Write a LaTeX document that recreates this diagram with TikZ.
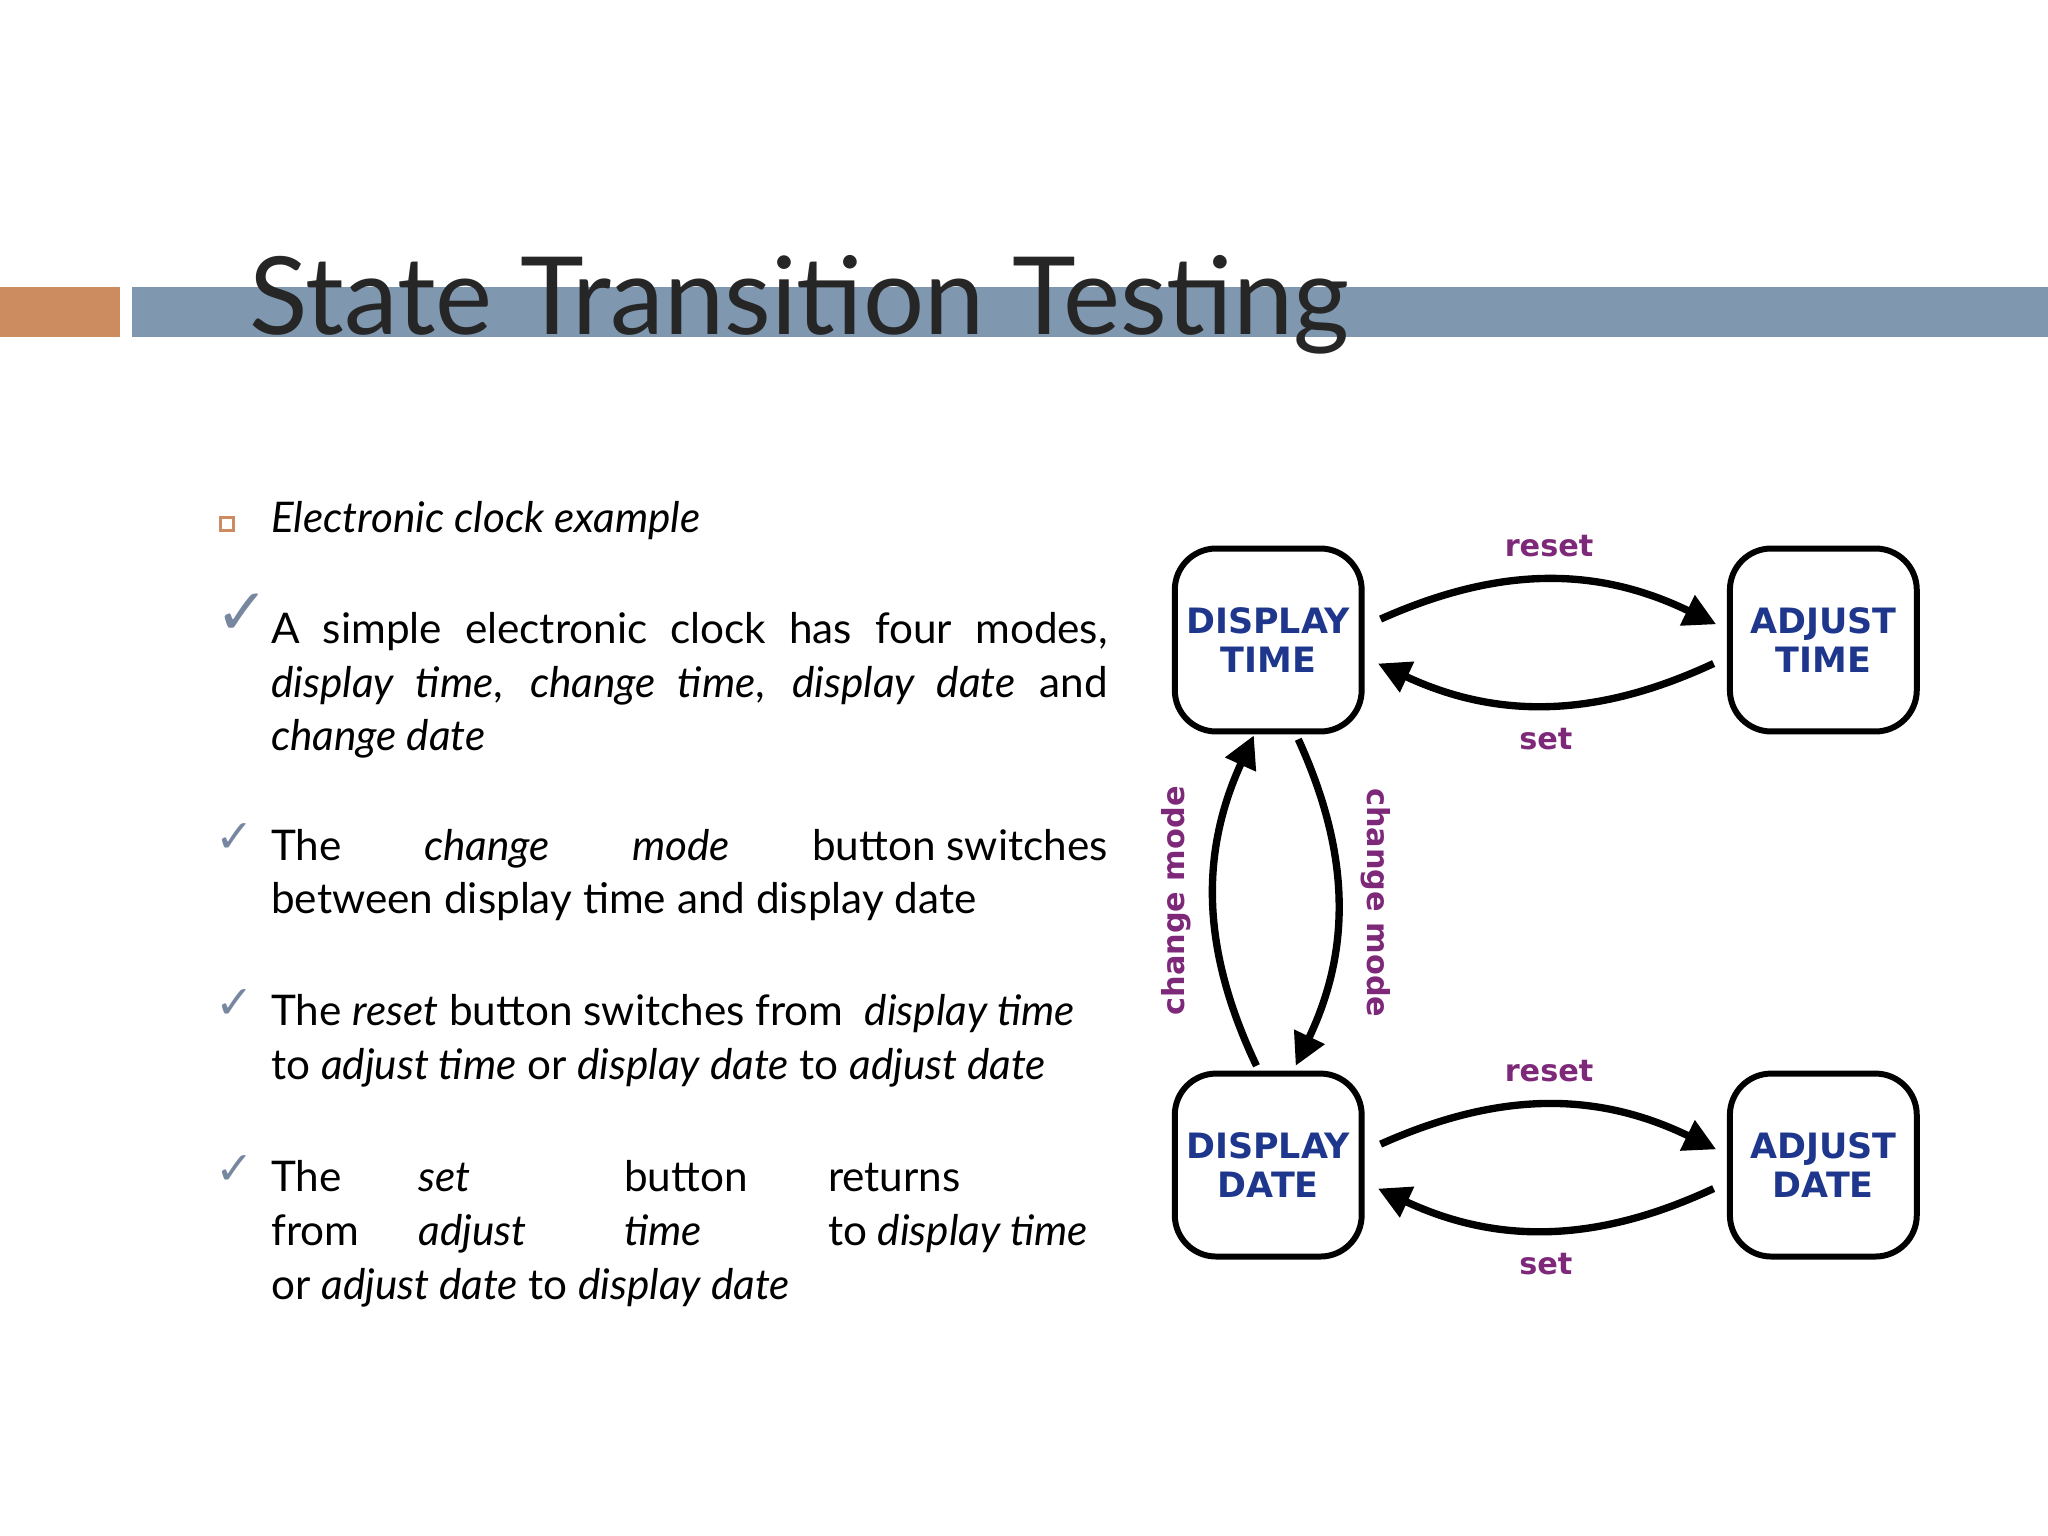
\documentclass[tikz,border=0pt]{standalone}
\usepackage{fontspec}
\setmainfont{Lato}
\newfontfamily\boxfont{DejaVu Sans}
\newfontfamily\symfont{DejaVu Sans}
\definecolor{slidebar}{RGB}{127,152,176}
\definecolor{slideorange}{RGB}{205,140,95}
\definecolor{tickgrey}{RGB}{120,135,160}
\definecolor{statetext}{RGB}{30,55,140}
\definecolor{eventtext}{RGB}{125,40,120}
\usetikzlibrary{positioning}
\usetikzlibrary{arrows.meta}
\tikzset{
  state/.style={draw, line width=1.3pt, rounded corners=9pt, minimum width=1.43cm,
    minimum height=1.4cm, inner sep=0pt, align=center, text=statetext, font=\boxfont\bfseries\fontsize{7.6}{8.6}\selectfont},
  trans/.style={line width=1.6pt, -{Triangle[length=7pt,width=7pt]}},
  event/.style={text=eventtext, font=\boxfont\bfseries\fontsize{6.6}{8}\selectfont},
  bullettext/.style={anchor=north west, text width=6.4cm, align=justify, inner sep=0pt,
    font=\fontsize{9.2}{11.7}\selectfont},
  tick/.style={text=tickgrey, font=\symfont\fontsize{10}{10}\selectfont, inner sep=0pt}
}
\begin{document}
\begin{tikzpicture}[x=0.01cm,y=-0.01cm]
  \useasboundingbox[fill=white] (0,0) rectangle (1568,1176);

  % title bar
  \fill[slideorange] (0,220) rectangle (92,258);
  \fill[slidebar] (101,220) rectangle (1568,258);
  \node[anchor=base west, inner sep=0pt, font=\fontsize{23.5}{28}\selectfont, text=black!85] (title) at (190,256) {State Transition Testing};

  % bullets
  \node[draw=slideorange, line width=0.6pt, minimum size=0.1cm, inner sep=0pt] (sq) at (174,401) {};
  \node[anchor=base west, inner sep=0pt, font=\fontsize{9.2}{11}\selectfont\itshape] (intro) at (207,408) {Electronic clock example};

  \node[tick, font=\symfont\fontsize{14}{14}\selectfont] (t1) at (186,470) {✓};
  \node[bullettext] (b1) at (207,468) {A simple electronic clock has four modes,\linebreak \emph{display time}, \emph{change time}, \emph{display date} and\linebreak \emph{change date}};

  \node[tick] (t2) at (180,642) {✓};
  \node[bullettext] (b2) at (207,634) {The\hfill \emph{change}\hfill \emph{mode}\hfill button switches\linebreak between display time and display date};

  \node[tick] (t3) at (180,769) {✓};
  \node[bullettext] (b3) at (207,761) {The \emph{reset} button switches from\hfill\emph{display time}\hspace*{0.25cm}\linebreak to \emph{adjust time} or \emph{display date} to \emph{adjust date}};

  \node[tick] (t4) at (180,896) {✓};
  \node[bullettext] (b4) at (207,888) {\hbox to 1.13cm{The\hfill}\hbox to 1.57cm{\emph{set}\hfill}\hbox to 1.56cm{button\hfill}returns\\
    \hbox to 1.13cm{from\hfill}\hbox to 1.57cm{\emph{adjust}\hfill}\hbox to 1.56cm{\emph{time}\hfill}to \emph{display time}\\
    or \emph{adjust date} to \emph{display date}};

  % state diagram
  \node[state] (dt) at (971,490) {DISPLAY\\TIME};
  \node[state] (at) at (1396,490) {ADJUST\\TIME};
  \node[state] (dd) at (971,892) {DISPLAY\\DATE};
  \node[state] (ad) at (1396,892) {ADJUST\\DATE};

  \coordinate (dtr1) at (1057,474);
  \coordinate (atl1) at (1314,478);
  \coordinate (atl2) at (1312,508);
  \coordinate (dtr2) at (1055,508);
  \coordinate (ddr1) at (1057,876);
  \coordinate (adl1) at (1314,880);
  \coordinate (adl2) at (1312,910);
  \coordinate (ddr2) at (1055,910);
  \coordinate (ddt1) at (962,816);
  \coordinate (dtb1) at (960,563);
  \coordinate (dtb2) at (994,566);
  \coordinate (ddt2) at (992,816);

  \draw[trans] (dtr1) to[bend left=25] node[above=1pt, event] {reset} (atl1);
  \draw[trans] (atl2) to[bend left=25] node[below=1pt, event] {set} (dtr2);
  \draw[trans] (ddr1) to[bend left=25] node[above=1pt, event] {reset} (adl1);
  \draw[trans] (adl2) to[bend left=25] node[below=1pt, event] {set} (ddr2);

  \draw[trans] (ddt1) to[bend left=25] node[event, rotate=90, anchor=south, yshift=1pt] {change mode} (dtb1);
  \draw[trans] (dtb2) to[bend left=25] node[event, rotate=-90, anchor=south, yshift=1pt] {change mode} (ddt2);
\end{tikzpicture}
\end{document}
